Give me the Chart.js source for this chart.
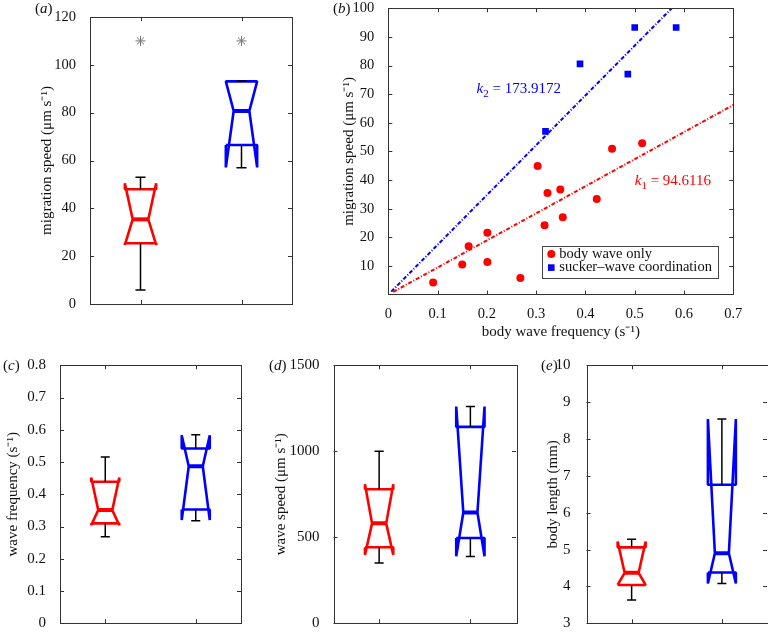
<!DOCTYPE html>
<html>
<head>
<meta charset="utf-8">
<script src="https://cdn.jsdelivr.net/npm/chart.js@4.4.1/dist/chart.umd.min.js"></script>
<style>
  body { margin: 0; background: #fff; width: 768px; height: 632px; position: relative; overflow: hidden; font-family: "Liberation Serif", serif; }
  canvas { position: absolute; }
  .tag { position: absolute; font-size: 15px; line-height: 18px; color: #111; white-space: nowrap; }
</style>
</head>
<body>
<canvas id="ca" width="330" height="332" style="left:0;top:0"></canvas>
<canvas id="cb" width="438" height="345" style="left:330px;top:0"></canvas>
<canvas id="cc" width="255" height="277" style="left:0;top:355px"></canvas>
<canvas id="cd" width="270" height="277" style="left:255px;top:355px"></canvas>
<canvas id="ce" width="258" height="277" style="left:510px;top:355px"></canvas>
<span class="tag" style="left:35px;top:-1px">(<i>a</i>)</span>
<span class="tag" style="left:333px;top:-1px">(<i>b</i>)</span>
<span class="tag" style="left:3px;top:356px">(<i>c</i>)</span>
<span class="tag" style="left:269px;top:356px">(<i>d</i>)</span>
<span class="tag" style="left:541px;top:356px">(<i>e</i>)</span>
<script>
// box stats: [lower whisker, q1, notch low, median, notch high, q3, upper whisker]
var groups = [1, 2];
var migrationRed = [5.9, 25.4, 24.7, 35.4, 50.5, 48.0, 53.0];
var migrationBlue = [57.0, 66.5, 57.1, 80.7, 93.1, 93.1, 93.2];
var starLevel = [110, 110];
var freqRed = [0.268, 0.310, 0.304, 0.351, 0.452, 0.439, 0.516];
var freqBlue = [0.318, 0.353, 0.320, 0.487, 0.583, 0.542, 0.585];
var waveSpeedRed = [350, 442, 398, 581, 808, 779, 1000];
var waveSpeedBlue = [388, 496, 390, 644, 1260, 1142, 1260];
var lengthRed = [3.63, 4.04, 4.04, 4.37, 5.22, 5.06, 5.28];
var lengthBlue = [4.08, 4.38, 4.08, 4.90, 8.54, 6.76, 8.54];

// panel b scatter
var bodyFreq = [0.091, 0.150, 0.163, 0.201, 0.201, 0.268, 0.303, 0.317, 0.323, 0.349, 0.354, 0.423, 0.454, 0.515];
var bodySpeed = [4.2, 10.5, 16.9, 21.6, 11.4, 5.8, 44.9, 24.2, 35.5, 36.7, 27.0, 33.4, 50.9, 52.9];
var suckerFreq = [0.319, 0.389, 0.486, 0.500, 0.584];
var suckerSpeed = [57.0, 80.6, 77.0, 93.3, 93.3];
var k1 = 94.6116, k2 = 173.9172;
var fitRangeBody = [0.01, 0.7];
var fitRangeSucker = [0.006, 0.575];
var seriesNames = ['body wave only', 'sucker\u2013wave coordination'];

// tick labels
var ticksA = [0, 20, 40, 60, 80, 100, 120];
var ticksBx = [0, 0.1, 0.2, 0.3, 0.4, 0.5, 0.6, 0.7];
var ticksBy = [10, 20, 30, 40, 50, 60, 70, 80, 90, 100];
var ticksC = [0, 0.1, 0.2, 0.3, 0.4, 0.5, 0.6, 0.7, 0.8];
var ticksD = [0, 500, 1000, 1500];
var ticksE = [3, 4, 5, 6, 7, 8, 9, 10];

var RED = '#f00', BLUE = '#00f', INK = '#111';
var BOX_W = 0.155, NOTCH = 0.5, CAP = 0.05;

Chart.defaults.font.family = '"Liberation Serif", serif';
Chart.defaults.color = INK;

function boxSets(s, cat, color) {
    var lo = s[0], q1 = s[1], nLo = s[2], med = s[3], nHi = s[4], q3 = s[5], hi = s[6];
    var L = cat - BOX_W, R = cat + BOX_W, iL = cat - BOX_W * NOTCH, iR = cat + BOX_W * NOTCH;
    return [{
        data: [{x: cat - CAP, y: hi}, {x: cat + CAP, y: hi}, {x: cat, y: null},
               {x: cat, y: hi}, {x: cat, y: q3}, {x: cat, y: null},
               {x: cat, y: q1}, {x: cat, y: lo}, {x: cat, y: null},
               {x: cat - CAP, y: lo}, {x: cat + CAP, y: lo}],
        borderColor: '#000', borderWidth: 1.5, order: 0
    }, {
        data: [{x: L, y: q1}, {x: L, y: nLo}, {x: iL, y: med}, {x: L, y: nHi}, {x: L, y: q3},
               {x: R, y: q3}, {x: R, y: nHi}, {x: iR, y: med}, {x: R, y: nLo}, {x: R, y: q1}, {x: L, y: q1}],
        borderColor: color, borderWidth: 2.6, borderJoinStyle: 'bevel', order: 1
    }, {
        data: [{x: iL, y: med}, {x: iR, y: med}],
        borderColor: color, borderWidth: 4, order: 1
    }];
}

var framePlugin = {
    id: 'frame',
    afterDraw: function (chart) {
        var ctx = chart.ctx, a = chart.chartArea, x = chart.scales.x, y = chart.scales.y;
        ctx.save();
        ctx.strokeStyle = '#333';
        ctx.lineWidth = 1;
        ctx.beginPath();
        x.ticks.forEach(function (t) {
            var px = Math.round(x.getPixelForValue(t.value)) + 0.5;
            ctx.moveTo(px, a.bottom); ctx.lineTo(px, a.bottom - 4);
            ctx.moveTo(px, a.top); ctx.lineTo(px, a.top + 4);
        });
        y.ticks.forEach(function (t) {
            var py = Math.round(y.getPixelForValue(t.value)) + 0.5;
            ctx.moveTo(a.left, py); ctx.lineTo(a.left + 4, py);
            ctx.moveTo(a.right, py); ctx.lineTo(a.right - 4, py);
        });
        ctx.stroke();
        ctx.strokeRect(Math.round(a.left) + 0.5, Math.round(a.top) + 0.5,
                       Math.round(a.right - a.left), Math.round(a.bottom - a.top));
        ctx.restore();
    }
};

function panel(id, o) {
    var tickSize = o.tickSize || 14.5;
    return new Chart(document.getElementById(id), {
        type: 'line',
        data: {datasets: o.datasets},
        options: {
            responsive: false,
            animation: false,
            devicePixelRatio: 1,
            layout: {padding: o.pad},
            elements: {point: {radius: 0}, line: {tension: 0}},
            plugins: {legend: {display: false}, tooltip: {enabled: false}},
            scales: {
                x: {
                    type: 'linear', min: o.xMin, max: o.xMax,
                    grid: {display: false}, border: {display: false},
                    afterBuildTicks: function (s) { s.ticks = o.xTicks.map(function (v) { return {value: v}; }); },
                    afterFit: function (s) { s.height = o.xH; s.paddingLeft = 0; s.paddingRight = 0; },
                    ticks: {display: !!o.xLabels, padding: 3, autoSkip: false, maxRotation: 0,
                            font: {size: tickSize}, color: INK, callback: function (v) { return String(v); }},
                    title: o.xTitle ? {display: true, text: o.xTitle, padding: 0, font: {size: 15}, color: INK} : {display: false}
                },
                y: {
                    type: 'linear', min: o.yMin, max: o.yMax,
                    grid: {display: false}, border: {display: false},
                    afterBuildTicks: function (s) { s.ticks = o.yTicks.map(function (v) { return {value: v}; }); },
                    afterFit: function (s) { s.width = o.yW; s.paddingTop = 0; s.paddingBottom = 0; },
                    ticks: {padding: o.tickPad || 6, autoSkip: false, font: {size: tickSize}, color: INK,
                            callback: function (v) { return String(v); }},
                    title: {display: true, text: o.yTitle, padding: 0, font: {size: 15}, color: INK}
                }
            }
        },
        plugins: [framePlugin].concat(o.plugins || [])
    });
}

function twoBoxes(red, blue) {
    return boxSets(red, groups[0], RED).concat(boxSets(blue, groups[1], BLUE));
}

// (a)
panel('ca', {
    pad: {left: 38, top: 17, right: 38, bottom: 0}, yW: 52, xH: 28,
    xMin: 0.5, xMax: 2.5, xTicks: groups, yMin: 0, yMax: 120, yTicks: ticksA,
    yTitle: 'migration speed (\u03bcm s\u207b\u00b9)',
    datasets: twoBoxes(migrationRed, migrationBlue).concat([{
        data: groups.map(function (g, i) { return {x: g, y: starLevel[i]}; }),
        showLine: false, pointStyle: 'star', pointRadius: 5, pointBorderColor: '#777',
        pointBorderWidth: 1, order: 0
    }])
});

// (b)
var legendB = {
    id: 'legendB',
    afterDraw: function (chart) {
        var ctx = chart.ctx, a = chart.chartArea;
        var bx = a.right - 191, by = a.bottom - 49;
        ctx.save();
        ctx.fillStyle = '#fff';
        ctx.fillRect(bx, by, 176, 32);
        ctx.strokeStyle = '#444';
        ctx.lineWidth = 1;
        ctx.strokeRect(Math.round(bx) + 0.5, Math.round(by) + 0.5, 176, 32);
        ctx.font = '14.5px "Liberation Serif", serif';
        ctx.textBaseline = 'middle';
        ctx.fillStyle = RED;
        ctx.beginPath(); ctx.arc(bx + 9, by + 8.5, 4, 0, Math.PI * 2); ctx.fill();
        ctx.fillStyle = BLUE;
        ctx.fillRect(bx + 5.7, by + 18.7, 6.6, 6.6);
        ctx.fillStyle = INK;
        ctx.fillText(seriesNames[0], bx + 17, by + 8.5);
        ctx.fillText(seriesNames[1], bx + 17, by + 22);
        ctx.restore();
    }
};
var slopeLabels = {
    id: 'slopeLabels',
    afterDatasetsDraw: function (chart) {
        var ctx = chart.ctx, x = chart.scales.x, y = chart.scales.y;
        [{sub: '2', k: k2, at: [0.179, 70.4], color: BLUE}, {sub: '1', k: k1, at: [0.5, 38.3], color: RED}].forEach(function (l) {
            var px = x.getPixelForValue(l.at[0]), py = y.getPixelForValue(l.at[1]);
            ctx.save();
            ctx.fillStyle = l.color;
            ctx.textBaseline = 'alphabetic';
            ctx.font = 'italic 15px "Liberation Serif", serif';
            ctx.fillText('k', px, py);
            px += ctx.measureText('k').width;
            ctx.font = '11px "Liberation Serif", serif';
            ctx.fillText(l.sub, px, py + 4);
            px += ctx.measureText(l.sub).width;
            ctx.font = '15px "Liberation Serif", serif';
            ctx.fillText(' = ' + l.k.toFixed(4), px, py);
            ctx.restore();
        });
    }
};
var dashDot = [4, 1.8, 1, 1.8];
panel('cb', {
    pad: {left: 10, top: 8.3, right: 34.7, bottom: 4.3}, yW: 48.3, xH: 46.1,
    xMin: 0, xMax: 0.7, xTicks: ticksBx, xLabels: true, yMin: 0, yMax: 100, yTicks: ticksBy,
    xTitle: 'body wave frequency (s\u207b\u00b9)',
    yTitle: 'migration speed (\u03bcm s\u207b\u00b9)',
    plugins: [slopeLabels, legendB],
    datasets: [{
        label: seriesNames[0],
        data: bodyFreq.map(function (f, i) { return {x: f, y: bodySpeed[i]}; }),
        showLine: false, pointStyle: 'circle', pointRadius: 4, pointBorderWidth: 0,
        pointBackgroundColor: RED, order: 0
    }, {
        label: seriesNames[1],
        data: suckerFreq.map(function (f, i) { return {x: f, y: suckerSpeed[i]}; }),
        showLine: false, pointStyle: 'rect', pointRadius: 4.7, pointBorderWidth: 0,
        pointBackgroundColor: BLUE, order: 0
    }, {
        data: fitRangeBody.map(function (f) { return {x: f, y: k1 * f}; }),
        borderColor: RED, borderWidth: 2, borderDash: dashDot, order: 1
    }, {
        data: fitRangeSucker.map(function (f) { return {x: f, y: k2 * f}; }),
        borderColor: BLUE, borderWidth: 2, borderDash: dashDot, order: 1
    }]
});

// (c)
panel('cc', {
    pad: {left: 4.5, top: 10.3, right: 14, bottom: 0}, yW: 55.5, xH: 8.7, tickSize: 15,
    xMin: 0.5, xMax: 2.5, xTicks: groups, yMin: 0, yMax: 0.8, yTicks: ticksC,
    yTitle: 'wave frequency (s\u207b\u00b9)',
    datasets: twoBoxes(freqRed, freqBlue)
});

// (d)
panel('cd', {
    pad: {left: 17.5, top: 10.3, right: 9, bottom: 0}, yW: 61, xH: 8.7, tickSize: 15,
    xMin: 0.5, xMax: 2.5, xTicks: groups, yMin: 0, yMax: 1500, yTicks: ticksD,
    yTitle: 'wave speed (\u03bcm s\u207b\u00b9)',
    datasets: twoBoxes(waveSpeedRed, waveSpeedBlue)
});

// (e)
panel('ce', {
    pad: {left: 34, top: 10.3, right: 1, bottom: 0}, yW: 42.5, xH: 8.7, tickSize: 15, tickPad: 8,
    xMin: 0.5, xMax: 2.5, xTicks: groups, yMin: 3, yMax: 10, yTicks: ticksE,
    yTitle: 'body length (mm)',
    datasets: twoBoxes(lengthRed, lengthBlue)
});
</script>
</body>
</html>
